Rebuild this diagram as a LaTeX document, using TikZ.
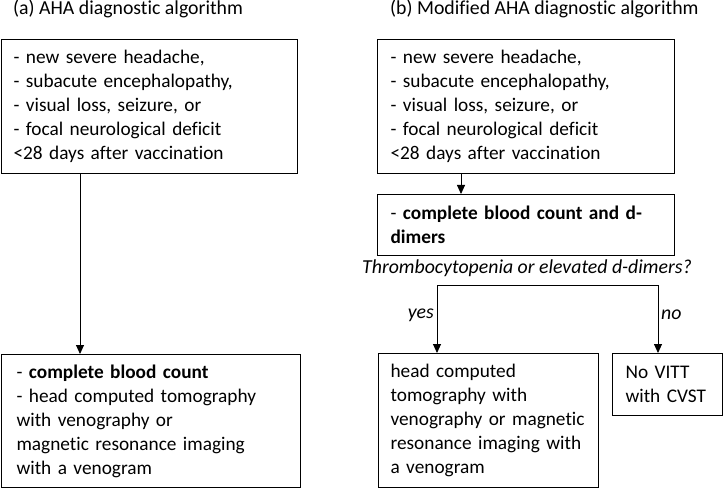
\documentclass[tikz,border=0pt]{standalone}
\usepackage{fontspec}
\setmainfont[Ligatures=NoCommon]{Carlito}
\usetikzlibrary{arrows.meta}
\begin{document}
\begin{tikzpicture}[x=1pt,y=1pt,
  every node/.style={font=\fontsize{19.3}{24}\selectfont},
  box/.style={draw,line width=1.1pt,anchor=north west,inner xsep=12pt,inner ysep=0pt,align=left},
  arr/.style={line width=0.9pt,-{Triangle[width=8pt,length=9pt]}},
  ttl/.style={font=\fontsize{19.8}{24}\selectfont,anchor=base west,inner sep=0pt},
  lbl/.style={font=\fontsize{19.8}{24}\selectfont\itshape}]
\useasboundingbox (0,0) rectangle (725,488);
% titles
\node[ttl] (ta) at (13,473) {(a) AHA diagnostic algorithm};
\node[ttl] (tb) at (390,473) {(b) Modified AHA diagnostic algorithm};
% panel a
\node[box,text width=272pt,minimum height=134pt] (a1) at (1,449) {- new severe headache,\\- subacute encephalopathy,\\- visual loss, seizure, or\\- focal neurological deficit\\<28 days after vaccination};
\node[box,inner xsep=15pt,text width=269pt,minimum height=133pt] (a2) at (1,134) {- \textbf{complete blood count}\\- head computed tomography\\with venography or\\magnetic resonance imaging\\with a venogram};
\coordinate (ax) at (80,0);
\draw[arr] (a1.south -| ax) -- (a2.north -| ax);
% panel b
\node[box,inner xsep=13pt,text width=271pt,minimum height=134pt] (b1) at (377,449) {- new severe headache,\\- subacute encephalopathy,\\- visual loss, seizure, or\\- focal neurological deficit\\<28 days after vaccination};
\node[box,inner xsep=13pt,text width=271pt,minimum height=61pt] (b2) at (377,294) {- \textbf{complete blood count and d-}\\\textbf{dimers}};
\coordinate (bx) at (461,0);
\draw[arr] (b1.south -| bx) -- (b2.north -| bx);
\node[lbl,inner sep=0pt] (q) at (527,220) {Thrombocytopenia or elevated d-dimers?};
\node[box,inner xsep=12pt,text width=196pt,minimum height=134pt] (b3) at (378,135) {head computed\\tomography with\\venography or magnetic\\resonance imaging with\\a venogram};
\node[box,inner xsep=13pt,text width=84pt,minimum height=62pt] (b4) at (612,135) {No VITT\\with CVST};
\coordinate (fl) at (437,203);
\coordinate (fr) at (658,203);
\draw[line width=0.9pt] (fl) -- (fr);
\draw[arr] (fl) -- (fl |- b3.north);
\draw[arr] (fr) -- (fr |- b4.north);
\node[lbl,anchor=east,inner sep=0pt] (yes) at (434,173) {yes};
\node[lbl,anchor=west,inner sep=0pt] (no) at (661,173) {no};
\end{tikzpicture}
\end{document}
